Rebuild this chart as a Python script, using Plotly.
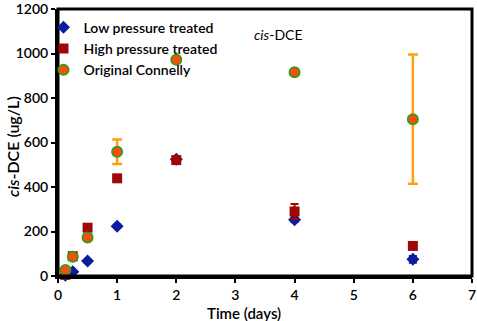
import plotly.graph_objects as go

time_low = [0.125, 0.25, 0.5, 1, 2, 4, 6]
low_vals = [3, 19, 67, 224, 525, 253, 75]
low_err = [2, 3, 5, 8, 10, 10, 15]

time_high = [0.125, 0.25, 0.5, 1, 2, 4, 6]
high_vals = [5, 89, 217, 439, 521, 290, 135]
high_err = [2, 5, 6, 6, 8, 34, 6]

time_orig = [0.125, 0.25, 0.5, 1, 2, 4, 6]
orig_vals = [27, 86, 173, 558, 972, 916, 705]
orig_err = [5, 8, 10, 55, 8, 6, 290]

font_fam = "Lato, Open Sans, sans-serif"

fig = go.Figure()
fig.add_trace(go.Scatter(
    x=time_low, y=low_vals, mode="markers", name="Low pressure treated",
    marker=dict(symbol="diamond", size=10, color="#0A1E9C"),
    error_y=dict(type="data", array=low_err, color="#0A1E9C", thickness=2, width=4),
    cliponaxis=False,
))
fig.add_trace(go.Scatter(
    x=time_high, y=high_vals, mode="markers", name="High pressure treated",
    marker=dict(symbol="square", size=10, color="#A00808"),
    error_y=dict(type="data", array=high_err, color="#A00808", thickness=2, width=4),
    cliponaxis=False,
))
fig.add_trace(go.Scatter(
    x=time_orig, y=orig_vals, mode="markers", name="Original Connelly",
    marker=dict(symbol="circle", size=10, color="#FF4A10",
                line=dict(color="#3C9A1A", width=2)),
    error_y=dict(type="data", array=orig_err, color="#FFA010", thickness=2.5, width=5),
    cliponaxis=False,
))

fig.add_annotation(
    text="<i>cis</i>-DCE", xref="paper", yref="paper", x=0.468, y=0.905,
    xanchor="left", yanchor="middle", showarrow=False,
    font=dict(family=font_fam, size=14, color="black"),
)
# axis titles
fig.add_annotation(
    text="Time (days)", xref="paper", yref="paper", x=0.449, y=-0.138,
    xanchor="center", yanchor="middle", showarrow=False,
    font=dict(family=font_fam, size=15, color="black", weight=600),
)
fig.add_annotation(
    text="<i>cis</i>-DCE (ug/L)", xref="paper", yref="paper", x=-0.111, y=0.483,
    xanchor="center", yanchor="middle", showarrow=False, textangle=-90,
    font=dict(family=font_fam, size=16, color="black", weight=600),
)

# frame around plot area
fig.add_shape(type="rect", xref="paper", yref="paper", x0=0, x1=1, y0=0, y1=1,
              line=dict(color="black", width=3), layer="above")

axis_common = dict(
    showgrid=False, zeroline=False, showline=True, linecolor="black", linewidth=3,
    mirror=False, ticks="outside", tickcolor="black", ticklen=4, tickwidth=2,
    tickfont=dict(family=font_fam, size=14, color="black", weight=600),
    automargin=False, ticklabeloverflow="allow",
)

fig.update_layout(
    width=477, height=321,
    margin=dict(l=58, r=5, t=9, b=45),
    paper_bgcolor="white", plot_bgcolor="white",
    font=dict(family=font_fam, size=14, color="black"),
    showlegend=True,
    legend=dict(x=-0.035, y=0.99, xanchor="left", yanchor="top", bgcolor="rgba(0,0,0,0)",
                font=dict(family=font_fam, size=14, color="black", weight=600),
                itemwidth=30),
    xaxis=dict(range=[0, 7], dtick=1, **axis_common),
    yaxis=dict(range=[0, 1200], dtick=200, **axis_common),
)

fig.write_html("out.html", config={"displayModeBar": False},
               post_script="document.body.style.margin='0';document.body.style.overflow='hidden';")
